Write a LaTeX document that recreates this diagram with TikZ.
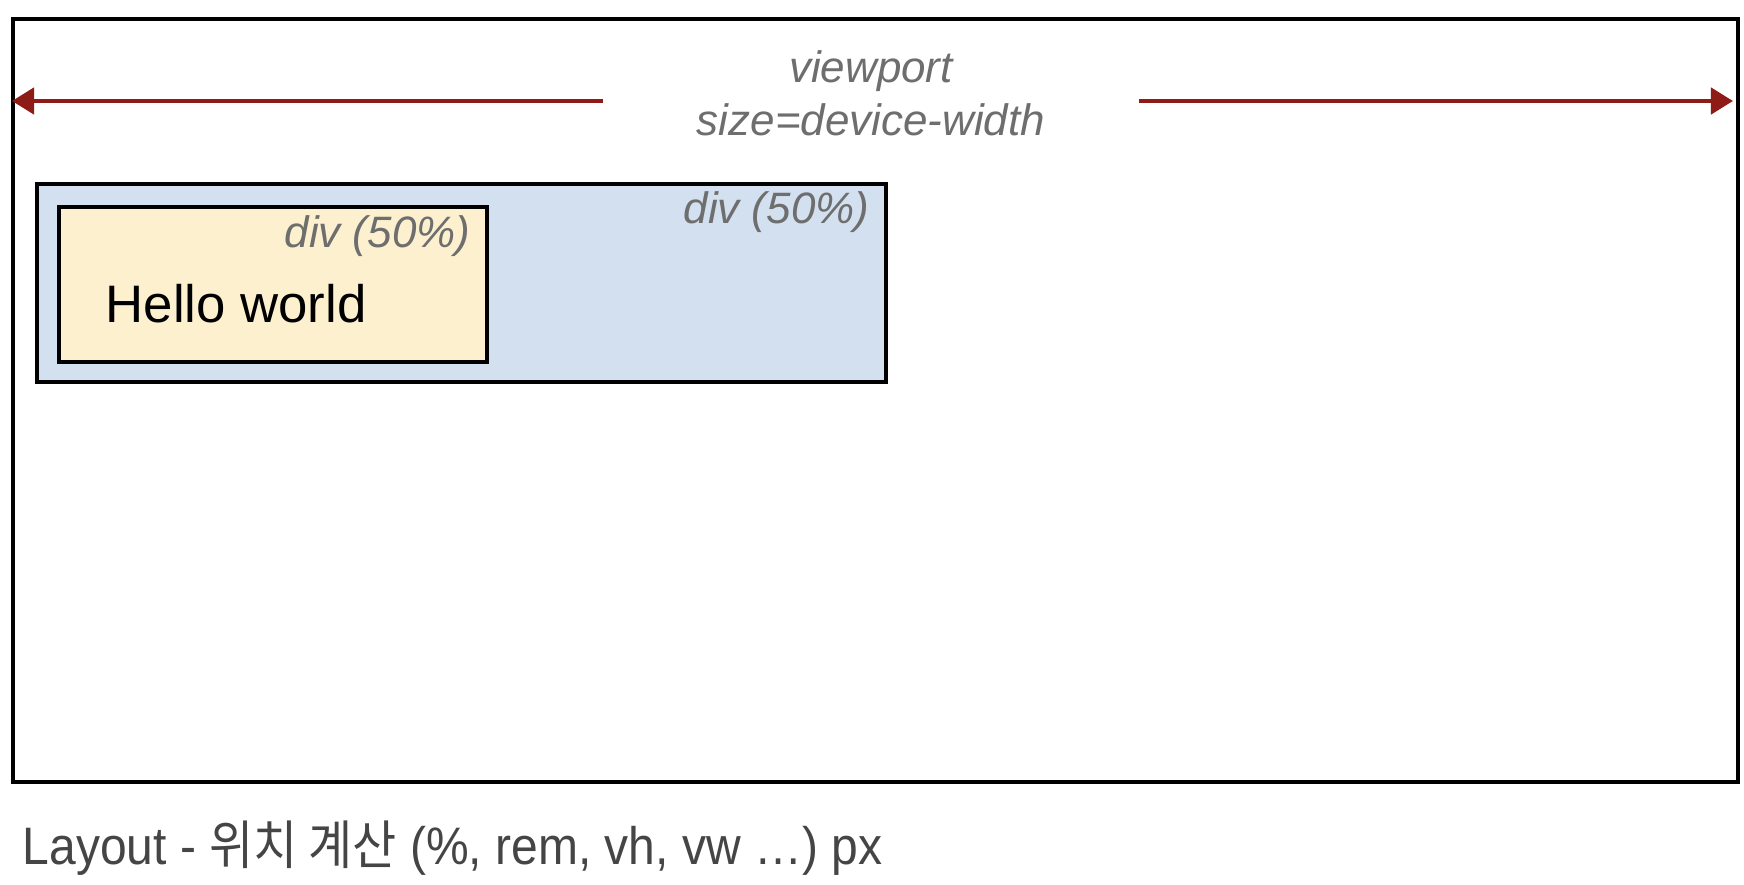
\documentclass[tikz,border=0pt]{standalone}
\usepackage{fontspec}
\setmainfont{Liberation Sans}
\newfontfamily\krfont[FakeStretch=0.91]{Noto Sans CJK KR}
\newfontfamily\captionfont[FakeStretch=0.91]{Liberation Sans}
\usetikzlibrary{arrows.meta,positioning}
\definecolor{arrowred}{HTML}{8E1B16}
\definecolor{divblue}{HTML}{D3E0EF}
\definecolor{divyellow}{HTML}{FCF0CE}
\definecolor{labelgray}{HTML}{6E6E6E}
\definecolor{captiongray}{HTML}{454545}

\begin{document}
\begin{tikzpicture}[x=0.01cm,y=-0.01cm,
  box/.style={draw=black, line width=1pt, anchor=north west, inner sep=0pt},
  divlabel/.style={text=labelgray, font=\fontsize{12.5}{15}\selectfont\itshape, inner sep=0pt},
  vparrow/.style={draw=arrowred, line width=1.3pt, -{Triangle[length=0.22cm,width=0.26cm]}}]
\useasboundingbox (0,0) rectangle (1744,884);
% boxes
\node[box, fill=white, minimum width=17.24cm, minimum height=7.63cm] (viewport) at (11,17) {};
\node[box, fill=divblue, minimum width=8.49cm, minimum height=1.98cm] (outerdiv) at (35,182) {};
\node[box, fill=divyellow, minimum width=4.28cm, minimum height=1.55cm] (innerdiv) at (57,205) {};
% labels
\node[divlabel, align=center, minimum width=5.34cm] (vplabel) at (871,93) {viewport\\size=device-width};
\node[divlabel, anchor=east] (outerlabel) at (870,212) {div (50\%)};
\node[divlabel, anchor=east] (innerlabel) at (471,236) {div (50\%)};
\node[anchor=west, inner sep=0pt, font=\fontsize{15}{18}\selectfont] (hello) at (105,304) {Hello world};
\node[anchor=west, inner sep=0pt, text=captiongray, font=\captionfont\fontsize{15}{18}\selectfont] (caption) at (22,848)
  {Layout - {\krfont 위치 계산} (\%, rem, vh, vw …) px};
% width arrows
\coordinate (vpleft) at (12,101);
\coordinate (vpright) at (1733,101);
\draw[vparrow] (vplabel.west |- vpleft) -- (vpleft);
\draw[vparrow] (vplabel.east |- vpright) -- (vpright);
\end{tikzpicture}
\end{document}
